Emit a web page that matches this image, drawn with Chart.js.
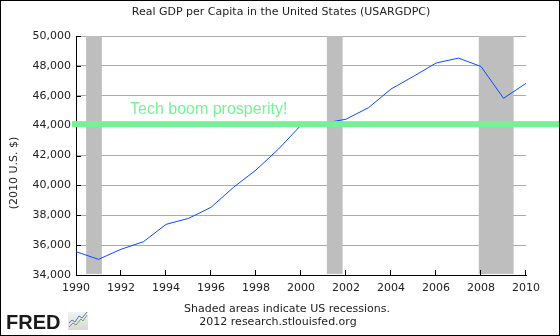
<!DOCTYPE html>
<html>
<head>
<meta charset="utf-8">
<script src="https://cdn.jsdelivr.net/npm/chart.js@4.4.1/dist/chart.umd.min.js"></script>
<style>
  html, body { margin: 0; padding: 0; background: #fff; }
  #wrap { width: 560px; height: 336px; }
</style>
</head>
<body>
<div id="wrap"><canvas id="chart" width="560" height="336"></canvas></div>
<script>
// Real GDP per capita, annual (2010 U.S. $)
const YEARS = [1990, 1991, 1992, 1993, 1994, 1995, 1996, 1997, 1998, 1999, 2000,
  2001, 2002, 2003, 2004, 2005, 2006, 2007, 2008, 2009, 2010];
const GDP_PER_CAPITA = [35560, 35050, 35720, 36230, 37390, 37790, 38530, 39870, 41030, 42430, 44030,
  44150, 44430, 45200, 46450, 47300, 48190, 48520, 47960, 45830, 46830];

// US recessions as fractional years [start, end]
const RECESSION_START = [1990.45, 2001.15, 2007.9];
const RECESSION_END = [1991.15, 2001.85, 2009.45];

const X_TICKS = [1990, 1992, 1994, 1996, 1998, 2000, 2002, 2004, 2006, 2008, 2010];
const Y_TICKS = [34000, 36000, 38000, 40000, 42000, 44000, 46000, 48000, 50000];

const BAND_VALUE = 44100;
const BAND_LABEL = 'Tech boom prosperity!';

const FONT = '"DejaVu Sans", Verdana, sans-serif';
const TEXT = '#222';
const GREEN = 'rgb(118, 242, 150)';

const decor = {
  id: 'decor',
  beforeDraw(chart) {
    const ctx = chart.ctx;
    ctx.save();
    ctx.fillStyle = '#fff';
    ctx.fillRect(0, 0, chart.width, chart.height);
    ctx.restore();
  },
  beforeDatasetsDraw(chart) {
    const { ctx, chartArea: a, scales: { x } } = chart;
    ctx.save();
    ctx.fillStyle = '#bebebe';
    RECESSION_START.forEach((s, i) => {
      const x0 = x.getPixelForValue(s);
      const x1 = x.getPixelForValue(RECESSION_END[i]);
      ctx.fillRect(x0, a.top, x1 - x0, a.bottom - a.top - 1);
    });
    ctx.restore();
  },
  afterDatasetsDraw(chart) {
    const { ctx, chartArea: a, scales: { x, y } } = chart;
    ctx.save();

    // inward tick marks
    ctx.strokeStyle = '#000';
    ctx.lineWidth = 1;
    ctx.beginPath();
    X_TICKS.slice(1).forEach(v => {
      const px = Math.round(x.getPixelForValue(v)) - 0.5;
      ctx.moveTo(px, a.bottom);
      ctx.lineTo(px, a.bottom - 5);
    });
    Y_TICKS.slice(1).forEach(v => {
      const py = Math.round(y.getPixelForValue(v)) + 0.5;
      ctx.moveTo(a.left, py);
      ctx.lineTo(a.left + 5, py);
    });
    ctx.stroke();

    // highlight band and its label
    const by = y.getPixelForValue(BAND_VALUE);
    ctx.fillStyle = GREEN;
    ctx.fillRect(a.left - 4, by - 3, chart.width - a.left + 4, 6);
    ctx.font = '16px "Liberation Sans", Arial, sans-serif';
    ctx.textAlign = 'left';
    ctx.textBaseline = 'alphabetic';
    ctx.fillText(BAND_LABEL, 130, by - 10);

    // title
    ctx.fillStyle = TEXT;
    ctx.font = '11px ' + FONT;
    ctx.textAlign = 'center';
    ctx.textBaseline = 'middle';
    ctx.fillText('Real GDP per Capita in the United States (USARGDPC)', 281, 12);

    // axis title
    ctx.save();
    ctx.translate(14.5, 173);
    ctx.rotate(-Math.PI / 2);
    ctx.fillText('(2010 U.S. $)', 0, 0);
    ctx.restore();

    // footer notes
    ctx.fillText('Shaded areas indicate US recessions.', 287, 309);
    ctx.fillText('2012 research.stlouisfed.org', 278, 322);

    // FRED mark
    ctx.font = 'bold 20px "Liberation Sans", Arial, sans-serif';
    ctx.textAlign = 'left';
    ctx.textBaseline = 'alphabetic';
    ctx.fillStyle = '#1a1a1a';
    ctx.fillText('FRED', 6, 329);
    const g = ctx.createLinearGradient(0, 311, 0, 330);
    g.addColorStop(0, '#f4f4f4');
    g.addColorStop(1, '#d8d8d8');
    ctx.fillStyle = g;
    ctx.fillRect(68, 312, 20, 18);
    ctx.lineWidth = 1;
    ctx.strokeStyle = '#6aa84f';
    ctx.beginPath();
    ctx.moveTo(69, 327); ctx.lineTo(73, 323); ctx.lineTo(76, 325); ctx.lineTo(81, 319); ctx.lineTo(83, 321); ctx.lineTo(87, 315);
    ctx.stroke();
    ctx.strokeStyle = '#4a78c8';
    ctx.beginPath();
    ctx.moveTo(69, 323); ctx.lineTo(72, 320); ctx.lineTo(75, 322); ctx.lineTo(79, 316); ctx.lineTo(82, 318); ctx.lineTo(87, 312);
    ctx.stroke();

    // outer frame
    ctx.strokeStyle = '#000';
    ctx.strokeRect(0.5, 0.5, chart.width - 1, chart.height - 1);
    ctx.restore();
  }
};

new Chart(document.getElementById('chart'), {
  type: 'line',
  data: {
    datasets: [{
      data: YEARS.map((yr, i) => ({ x: yr, y: GDP_PER_CAPITA[i] })),
      borderColor: '#0a4cff',
      borderWidth: 1,
      pointRadius: 0,
      tension: 0,
      fill: false
    }]
  },
  options: {
    responsive: false,
    devicePixelRatio: 1,
    animation: false,
    layout: { padding: { left: 0, top: 36, right: 34, bottom: 0 } },
    plugins: { legend: { display: false }, tooltip: { enabled: false }, title: { display: false } },
    scales: {
      x: {
        type: 'linear',
        min: 1990,
        max: 2010,
        afterBuildTicks: s => { s.ticks = X_TICKS.map(v => ({ value: v })); },
        afterFit: s => { s.height = 61; },
        grid: { display: false, drawTicks: false },
        border: { color: '#000', width: 1 },
        ticks: {
          padding: 7,
          maxRotation: 0,
          autoSkip: false,
          color: TEXT,
          font: { family: FONT, size: 11 },
          callback: v => String(v)
        }
      },
      y: {
        min: 34000,
        max: 50000,
        afterBuildTicks: s => { s.ticks = Y_TICKS.map(v => ({ value: v })); },
        afterFit: s => { s.width = 76; },
        grid: { color: '#aaa', drawTicks: false },
        border: { color: '#000', width: 1 },
        ticks: {
          padding: 5,
          color: TEXT,
          font: { family: FONT, size: 11 },
          callback: v => v.toLocaleString('en-US')
        }
      }
    }
  },
  plugins: [decor]
});
</script>
</body>
</html>
